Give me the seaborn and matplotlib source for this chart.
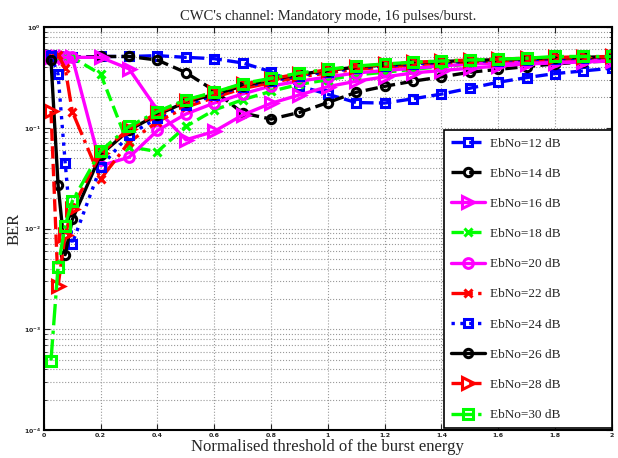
import matplotlib
matplotlib.use("Agg")
import matplotlib.pyplot as plt
import matplotlib.ticker as mticker
import numpy as np
import seaborn as sns

# threshold values (normalised burst energy)
threshold = [0.025, 0.05, 0.075, 0.1, 0.2, 0.3, 0.4, 0.5, 0.6, 0.7, 0.8, 0.9,
             1.0, 1.1, 1.2, 1.3, 1.4, 1.5, 1.6, 1.7, 1.8, 1.9, 2.0]

ber_12 = [0.53, 0.51, 0.5, 0.5, 0.51, 0.51, 0.52, 0.5, 0.485, 0.44, 0.36, 0.26,
          0.215, 0.178, 0.176, 0.194, 0.216, 0.247, 0.283, 0.315, 0.345, 0.367, 0.39]
ber_14 = [0.5, 0.5, 0.5, 0.5, 0.51, 0.51, 0.47, 0.353, 0.234, 0.14, 0.122, 0.142,
          0.178, 0.225, 0.258, 0.29, 0.32, 0.356, 0.38, 0.405, 0.43, 0.45, 0.46]
ber_16 = [0.5, 0.5, 0.5, 0.5, 0.5, 0.384, 0.15, 0.076, 0.092, 0.134, 0.175, 0.212,
          0.256, 0.29, 0.32, 0.35, 0.37, 0.39, 0.41, 0.43, 0.44, 0.45, 0.46]
ber_18 = [0.5, 0.5, 0.5, 0.5, 0.34, 0.065, 0.058, 0.103, 0.15, 0.19, 0.23, 0.27,
          0.3, 0.335, 0.356, 0.38, 0.405, 0.43, 0.45, 0.47, 0.48, 0.49, 0.5]
ber_20 = [0.5, 0.5, 0.5, 0.5, 0.042, 0.051, 0.094, 0.137, 0.176, 0.217, 0.26, 0.29,
          0.32, 0.35, 0.37, 0.39, 0.41, 0.43, 0.44, 0.45, 0.46, 0.47, 0.48]
ber_22 = [0.5, 0.53, 0.39, 0.145, 0.031, 0.072, 0.115, 0.16, 0.2, 0.245, 0.28, 0.32,
          0.35, 0.38, 0.4, 0.42, 0.44, 0.45, 0.46, 0.47, 0.48, 0.49, 0.5]
ber_24 = [0.52, 0.34, 0.045, 0.0071, 0.041, 0.085, 0.125, 0.17, 0.21, 0.255, 0.29, 0.33,
          0.36, 0.39, 0.41, 0.43, 0.445, 0.455, 0.465, 0.475, 0.485, 0.49, 0.5]
ber_26 = [0.47, 0.027, 0.0055, 0.0123, 0.054, 0.095, 0.135, 0.18, 0.215, 0.26, 0.3, 0.34,
          0.37, 0.4, 0.42, 0.44, 0.455, 0.465, 0.475, 0.485, 0.495, 0.5, 0.51]
ber_28 = [0.147, 0.0027, 0.0087, 0.0158, 0.056, 0.098, 0.14, 0.185, 0.225, 0.27, 0.305, 0.345,
          0.375, 0.405, 0.425, 0.445, 0.46, 0.47, 0.48, 0.49, 0.5, 0.505, 0.51]
ber_30 = [0.00049, 0.0042, 0.0107, 0.0187, 0.059, 0.103, 0.145, 0.19, 0.225, 0.275, 0.31, 0.35,
          0.38, 0.41, 0.43, 0.447, 0.46, 0.47, 0.48, 0.49, 0.51, 0.51, 0.51]

labels = ["EbNo=12 dB", "EbNo=14 dB", "EbNo=16 dB", "EbNo=18 dB", "EbNo=20 dB",
          "EbNo=22 dB", "EbNo=24 dB", "EbNo=26 dB", "EbNo=28 dB", "EbNo=30 dB"]
series = [ber_12, ber_14, ber_16, ber_18, ber_20, ber_22, ber_24, ber_26, ber_28, ber_30]

# matlab style line specs
colors = ["#0000ff", "#000000", "#ff00ff", "#00ff00", "#ff00ff",
          "#ff0000", "#0000ff", "#000000", "#ff0000", "#00ff00"]
styles = ["--", "--", "-", "--", "-", "-.", ":", "-", "--", "-."]
marks = ["s", "o", ">", "x", "o", "x", "s", "o", ">", "s"]
msizes = [6, 6, 9, 6, 7, 6, 6, 6, 9, 7]

sns.set_style("ticks")
plt.rcParams["font.family"] = ["Liberation Serif", "DejaVu Serif"]

fig = plt.figure(figsize=(6.18, 4.58), dpi=100)
ax = fig.add_axes([0.071, 0.061, 0.919, 0.88])

for ber, lab, c, ls, m, ms in zip(series, labels, colors, styles, marks, msizes):
    sns.lineplot(x=threshold, y=ber, ax=ax, color=c, linestyle=ls, linewidth=2.4,
                 marker=m, markersize=ms, markerfacecolor="none", markeredgecolor=c,
                 markeredgewidth=2.2, label=lab, sort=False)

ax.set_yscale("log")
ax.set_xlim(0, 2)
ax.set_ylim(1e-4, 1)
ax.set_xticks(np.arange(0, 2.01, 0.2))
ax.xaxis.set_major_formatter(mticker.FuncFormatter(lambda v, p: "%g" % round(v, 1)))
ax.yaxis.set_major_locator(mticker.LogLocator(base=10, numticks=10))
ax.yaxis.set_minor_locator(mticker.LogLocator(base=10, subs=np.arange(2, 10), numticks=20))
ax.yaxis.set_minor_formatter(mticker.NullFormatter())
ax.tick_params(axis="both", which="both", direction="in", top=True, right=True)
ax.tick_params(axis="both", which="major", labelsize=4.5, length=4, width=0.8, pad=2)
ax.tick_params(axis="both", which="minor", length=2, width=0.6)
for t in ax.get_xticklabels() + ax.get_yticklabels():
    t.set_fontfamily("DejaVu Sans")
    t.set_fontweight("bold")

ax.grid(True, which="major", linestyle=":", color="#999999", linewidth=0.8)
ax.grid(True, which="minor", axis="y", linestyle=":", color="#999999", linewidth=0.8)
for sp in ax.spines.values():
    sp.set_linewidth(1.5)
    sp.set_color("black")

ax.set_title("CWC's channel: Mandatory mode, 16 pulses/burst.", fontsize=10.5, pad=5)
ax.set_xlabel("Normalised threshold of the burst energy", fontsize=12, labelpad=1)
ax.set_ylabel("BER", fontsize=12, labelpad=1)

# legend box spans from x=443 px to the right spine
leg = ax.legend(loc="lower left", bbox_to_anchor=(0.704, 0.004, 0.296, 0.74),
                mode="expand", fontsize=9.5, labelspacing=1.36, handlelength=2.6,
                handletextpad=0.35, borderpad=0.55, frameon=True, fancybox=False,
                borderaxespad=0)
leg.get_frame().set_edgecolor("black")
leg.get_frame().set_linewidth(1.2)
leg.get_frame().set_alpha(1)

fig.savefig("out.png", dpi=100)
